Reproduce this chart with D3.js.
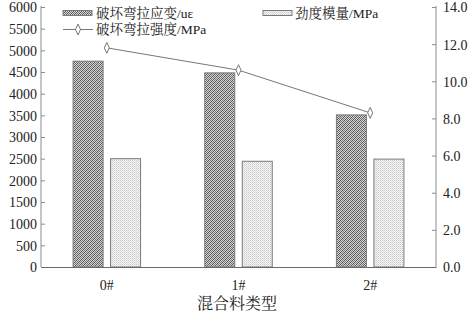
<!DOCTYPE html>
<html>
<head>
<meta charset="utf-8">
<script src="https://cdn.jsdelivr.net/npm/d3@7"></script>
<style>
  body { margin: 0; background: #fff; }
  svg { display: block; }
  text { font-family: "Liberation Serif", "Noto Serif CJK SC", "Noto Sans CJK SC", serif; fill: #222; }
</style>
</head>
<body>
<svg id="chart" width="472" height="313"></svg>
<script>
(function() {
  // data
  const categories = ['0#', '1#', '2#'];
  const strainValues = [4750, 4480, 3510];     // 破坏弯拉应变/uε (left axis)
  const modulusValues = [2500, 2440, 2490];    // 劲度模量/MPa (left axis)
  const strengthValues = [11.8, 10.6, 8.3];    // 破坏弯拉强度/MPa (right axis)
  const leftTicks = [0, 500, 1000, 1500, 2000, 2500, 3000, 3500, 4000, 4500, 5000, 5500, 6000];
  const rightTicks = [0, 2, 4, 6, 8, 10, 12, 14];

  const width = 472, height = 313;
  const margin = { top: 7, right: 36, bottom: 46, left: 41 };
  const svg = d3.select('#chart');
  const axisColor = '#8c8c8c';

  const x = d3.scaleBand()
    .domain(categories)
    .range([margin.left, width - margin.right])
    .padding(0);
  const yL = d3.scaleLinear().domain([0, 6000]).range([height - margin.bottom, margin.top]);
  const yR = d3.scaleLinear().domain([0, 14]).range([height - margin.bottom, margin.top]);

  // patterns for the bars
  const defs = svg.append('defs');
  const dark = defs.append('pattern')
    .attr('id', 'darkHatch')
    .attr('patternUnits', 'userSpaceOnUse')
    .attr('width', 4).attr('height', 4);
  dark.append('rect').attr('width', 4).attr('height', 4).attr('fill', '#d4d4d4');
  // small crosshatch: dark pixels on both diagonals
  [[0, 0], [1, 1], [2, 2], [3, 3], [3, 1], [1, 3], [2, 0], [0, 2]].forEach(p => {
    dark.append('rect').attr('x', p[0]).attr('y', p[1]).attr('width', 1).attr('height', 1)
      .attr('fill', (p[0] + p[1]) % 4 === 0 ? '#555' : '#777');
  });

  const light = defs.append('pattern')
    .attr('id', 'lightDots')
    .attr('patternUnits', 'userSpaceOnUse')
    .attr('width', 2).attr('height', 2);
  light.append('rect').attr('width', 2).attr('height', 2).attr('fill', '#f6f6f6');
  light.append('rect').attr('x', 0).attr('y', 0).attr('width', 1).attr('height', 1).attr('fill', '#c8c8c8');
  light.append('rect').attr('x', 1).attr('y', 1).attr('width', 1).attr('height', 1).attr('fill', '#dcdcdc');

  // bars
  const barW = 30, gap = 7.5;
  const rows = categories.map((c, i) => ({ c: c, strain: strainValues[i], modulus: modulusValues[i], strength: strengthValues[i] }));
  const cx = d => x(d.c) + x.bandwidth() / 2;

  svg.append('g').selectAll('rect')
    .data(rows).join('rect')
    .attr('x', d => cx(d) - gap / 2 - barW)
    .attr('y', d => yL(d.strain))
    .attr('width', barW)
    .attr('height', d => yL(0) - yL(d.strain))
    .attr('fill', 'url(#darkHatch)')
    .attr('stroke', '#7a7a7a')
    .attr('stroke-width', 1);

  svg.append('g').selectAll('rect')
    .data(rows).join('rect')
    .attr('x', d => cx(d) + gap / 2)
    .attr('y', d => yL(d.modulus))
    .attr('width', barW)
    .attr('height', d => yL(0) - yL(d.modulus))
    .attr('fill', 'url(#lightDots)')
    .attr('stroke', '#7a7a7a')
    .attr('stroke-width', 1);

  // axes
  const leftAxis = d3.axisRight(yL).tickValues(leftTicks).tickSize(4).tickFormat(d3.format('d'));
  const gL = svg.append('g').attr('transform', `translate(${margin.left},0)`).call(leftAxis);
  gL.selectAll('text').attr('x', -4).attr('text-anchor', 'end').attr('font-size', 14).attr('dy', '0.35em');

  const rightAxis = d3.axisLeft(yR).tickValues(rightTicks).tickSize(4).tickFormat(d3.format('.1f'));
  const gR = svg.append('g').attr('transform', `translate(${width - margin.right},0)`).call(rightAxis);
  gR.selectAll('text').attr('x', 7).attr('text-anchor', 'start').attr('font-size', 14).attr('dy', '0.35em');

  [gL, gR].forEach(g => {
    g.selectAll('.tick line').attr('stroke', axisColor);
    g.selectAll('text').attr('fill', '#222').attr('font-family', '"Liberation Serif", serif');
  });
  gL.select('.domain').remove();
  gR.select('.domain').remove();
  svg.append('line')
    .attr('x1', margin.left).attr('x2', margin.left)
    .attr('y1', yL(6000) - 1).attr('y2', yL(0))
    .attr('stroke', axisColor);
  svg.append('line')
    .attr('x1', width - margin.right).attr('x2', width - margin.right)
    .attr('y1', yR(14) - 1).attr('y2', yR(0))
    .attr('stroke', axisColor);

  // bottom axis
  const bottomAxis = d3.axisBottom(x).tickSize(0).tickPadding(13);
  const gB = svg.append('g').attr('transform', `translate(0,${yL(0)})`).call(bottomAxis);
  gB.select('.domain').attr('stroke', '#6a6a6a');
  gB.selectAll('text').attr('font-size', 14).attr('fill', '#222').attr('font-family', '"Liberation Serif", serif');

  // strength line
  const line = d3.line().x(d => cx(d)).y(d => yR(d.strength));
  svg.append('path')
    .datum(rows)
    .attr('d', line)
    .attr('fill', 'none')
    .attr('stroke', '#777')
    .attr('stroke-width', 1);
  svg.append('g').selectAll('path')
    .data(rows).join('path')
    .attr('d', d3.symbol(d3.symbolDiamond, 34))
    .attr('transform', d => `translate(${cx(d)},${yR(d.strength)}) scale(0.8,1)`)
    .attr('fill', '#fff')
    .attr('stroke', '#666')
    .attr('stroke-width', 1);

  // x title
  svg.append('text')
    .attr('x', 237).attr('y', 309)
    .attr('text-anchor', 'middle')
    .attr('font-size', 16)
    .attr('font-family', '"Noto Serif CJK SC", "Noto Sans CJK SC", serif')
    .text('混合料类型');

  // legend
  const lg = svg.append('g').attr('font-size', 13.5);
  lg.append('rect').attr('x', 63).attr('y', 10.5).attr('width', 29).attr('height', 5)
    .attr('fill', 'url(#darkHatch)').attr('stroke', '#7a7a7a');
  lg.append('text').attr('x', 96).attr('y', 18).text('破坏弯拉应变/uε');

  lg.append('rect').attr('x', 263).attr('y', 10.5).attr('width', 29).attr('height', 5)
    .attr('fill', 'url(#lightDots)').attr('stroke', '#7a7a7a');
  lg.append('text').attr('x', 295).attr('y', 18).text('劲度模量/MPa');

  lg.append('line').attr('x1', 63).attr('x2', 93).attr('y1', 29.5).attr('y2', 29.5)
    .attr('stroke', '#777');
  lg.append('path')
    .attr('d', d3.symbol(d3.symbolDiamond, 34))
    .attr('transform', 'translate(78,29.5) scale(0.8,1)')
    .attr('fill', '#fff').attr('stroke', '#666');
  lg.append('text').attr('x', 96).attr('y', 34).text('破坏弯拉强度/MPa');
})();
</script>
</body>
</html>
